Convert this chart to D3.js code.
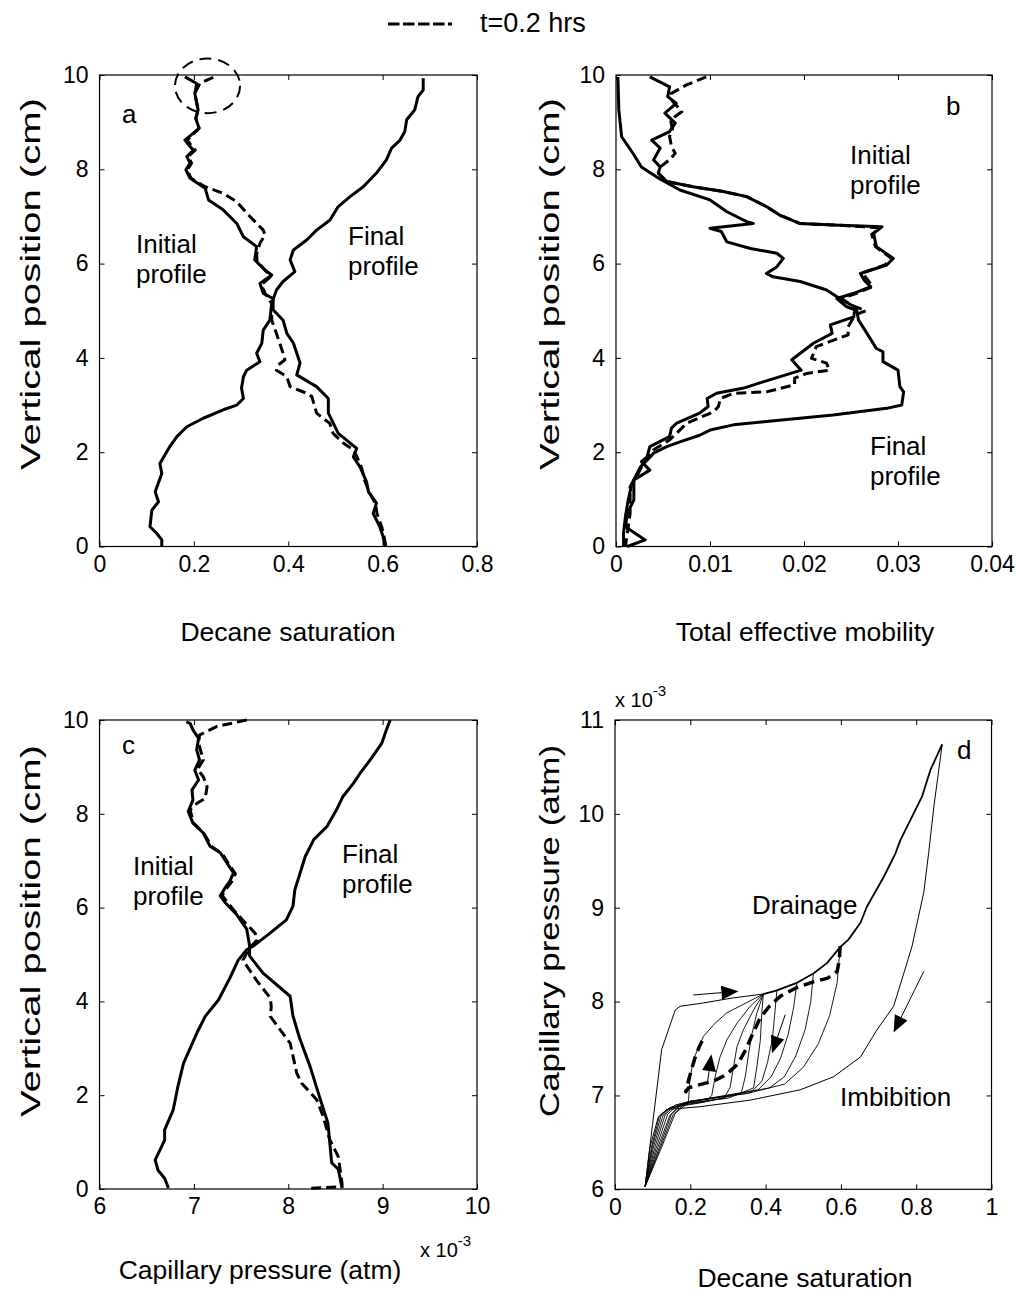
<!DOCTYPE html>
<html><head><meta charset="utf-8">
<script src="https://cdn.jsdelivr.net/npm/d3@7"></script>
<style>
body{margin:0;background:#fff}
svg text{font-family:"Liberation Sans",Arial,Helvetica,sans-serif;fill:#000}
</style>
</head><body>
<svg id="fig" width="1016" height="1293"></svg>
<script>
// ---------- (a) decane saturation profiles: [saturation, height cm] ----------
const aInitial = [[0.181,9.96],[0.206,9.82],[0.202,9.61],[0.209,9.26],[0.204,9.08],[0.211,8.87],[0.181,8.62],[0.192,8.48],[0.199,8.41],[0.185,8.27],[0.192,8.13],[0.183,7.99],[0.192,7.81],[0.224,7.60],[0.231,7.35],[0.262,7.14],[0.291,6.85],[0.305,6.57],[0.333,6.36],[0.329,6.08],[0.351,5.86],[0.365,5.76],[0.340,5.58],[0.347,5.37],[0.368,5.26],[0.368,5.02],[0.389,4.80],[0.397,4.52],[0.411,4.31],[0.425,3.89],[0.418,3.64],[0.460,3.39],[0.485,3.14],[0.485,2.83],[0.506,2.40],[0.545,2.08],[0.538,1.90],[0.552,1.69],[0.566,1.37],[0.570,1.16],[0.587,0.92],[0.580,0.70],[0.594,0.42],[0.601,0.21],[0.605,0.0]];
const aT02 = [[0.241,9.95],[0.213,9.83],[0.202,9.61],[0.209,9.26],[0.204,9.08],[0.211,8.87],[0.186,8.62],[0.196,8.48],[0.203,8.41],[0.188,8.27],[0.195,8.13],[0.186,7.99],[0.194,7.81],[0.224,7.63],[0.262,7.49],[0.291,7.31],[0.312,7.07],[0.347,6.71],[0.351,6.61],[0.340,6.43],[0.333,6.20],[0.334,6.05],[0.352,5.85],[0.362,5.72],[0.343,5.55],[0.352,5.35],[0.365,5.15],[0.365,4.80],[0.375,4.52],[0.389,4.10],[0.393,3.96],[0.379,3.85],[0.375,3.74],[0.397,3.60],[0.404,3.39],[0.439,3.25],[0.450,3.18],[0.460,2.83],[0.488,2.61],[0.495,2.40],[0.517,2.19],[0.538,2.05],[0.548,1.85],[0.556,1.65],[0.562,1.40],[0.572,1.15],[0.585,0.90],[0.588,0.70],[0.598,0.42],[0.603,0.21],[0.607,0.0]];
const aFinal = [[0.686,9.93],[0.686,9.68],[0.675,9.54],[0.668,9.26],[0.651,9.05],[0.647,8.80],[0.637,8.62],[0.619,8.45],[0.608,8.20],[0.587,7.92],[0.559,7.63],[0.531,7.42],[0.506,7.21],[0.488,6.92],[0.460,6.71],[0.439,6.50],[0.411,6.29],[0.404,6.08],[0.414,5.83],[0.389,5.62],[0.375,5.44],[0.365,5.16],[0.361,4.80],[0.347,4.59],[0.344,4.31],[0.333,4.10],[0.340,3.92],[0.312,3.74],[0.305,3.60],[0.301,3.36],[0.305,3.14],[0.291,3.00],[0.262,2.90],[0.220,2.72],[0.185,2.54],[0.164,2.33],[0.149,2.12],[0.128,1.76],[0.132,1.55],[0.118,1.16],[0.125,0.95],[0.111,0.77],[0.107,0.42],[0.121,0.28],[0.132,0.14],[0.132,0.0]];
// highlighted region near the top of (a): centre, radii in data units
const aCircle = {cx:0.229, cy:9.77, rx:0.069, ry:0.58};

// ---------- (b) total effective mobility profiles ----------
const bInitial = [[0.0036,9.96],[0.0057,9.75],[0.0055,9.54],[0.0064,9.40],[0.0052,9.19],[0.0063,8.98],[0.0057,8.80],[0.0038,8.62],[0.0047,8.45],[0.0040,8.20],[0.0047,8.05],[0.0045,7.92],[0.0054,7.74],[0.0082,7.63],[0.0114,7.53],[0.0139,7.42],[0.0160,7.21],[0.0174,7.03],[0.0196,6.85],[0.0231,6.82],[0.0283,6.78],[0.0274,6.64],[0.0277,6.36],[0.0295,6.11],[0.0288,5.97],[0.0260,5.79],[0.0264,5.65],[0.0271,5.51],[0.0253,5.37],[0.0235,5.26],[0.0245,5.09],[0.0254,5.02],[0.0253,4.87],[0.0228,4.70],[0.0230,4.52],[0.0210,4.31],[0.0187,3.96],[0.0197,3.74],[0.0153,3.47],[0.0136,3.36],[0.0107,3.25],[0.0097,3.14],[0.0098,2.97],[0.0089,2.83],[0.0064,2.61],[0.0059,2.51],[0.0057,2.33],[0.0036,2.12],[0.0033,1.90],[0.0027,1.80],[0.0036,1.62],[0.0019,1.41],[0.0019,0.99],[0.0012,0.70],[0.0010,0.42],[0.0031,0.14],[0.0012,0.0]];
const bT02 = [[0.0096,9.96],[0.0075,9.79],[0.0059,9.61],[0.0060,9.45],[0.0070,9.22],[0.0058,9.05],[0.0060,8.85],[0.0057,8.70],[0.0059,8.48],[0.0063,8.34],[0.0057,8.20],[0.0047,8.05],[0.0045,7.92],[0.0054,7.74],[0.0082,7.63],[0.0114,7.53],[0.0139,7.42],[0.0160,7.21],[0.0174,7.03],[0.0196,6.85],[0.0231,6.82],[0.0281,6.76],[0.0272,6.62],[0.0276,6.36],[0.0293,6.11],[0.0286,5.97],[0.0262,5.80],[0.0268,5.65],[0.0273,5.51],[0.0256,5.37],[0.0240,5.26],[0.0250,5.12],[0.0266,5.00],[0.0254,4.91],[0.0247,4.66],[0.0247,4.49],[0.0213,4.24],[0.0208,3.99],[0.0224,3.89],[0.0227,3.74],[0.0203,3.67],[0.0190,3.57],[0.0190,3.43],[0.0160,3.28],[0.0125,3.25],[0.0111,3.14],[0.0109,2.97],[0.0104,2.86],[0.0075,2.61],[0.0066,2.43],[0.0057,2.26],[0.0040,2.05],[0.0036,1.94],[0.0029,1.76],[0.0022,1.48],[0.0015,1.27],[0.0015,0.70],[0.0012,0.28],[0.0010,0.0]];
const bFinal = [[0.0002,9.96],[0.0003,9.26],[0.0006,8.69],[0.0018,8.34],[0.0027,8.05],[0.0043,7.84],[0.0068,7.56],[0.0100,7.35],[0.0118,7.10],[0.0139,6.89],[0.0146,6.85],[0.0100,6.75],[0.0112,6.68],[0.0118,6.46],[0.0143,6.32],[0.0171,6.22],[0.0178,6.11],[0.0171,5.93],[0.0160,5.79],[0.0167,5.72],[0.0196,5.62],[0.0224,5.44],[0.0238,5.26],[0.0253,5.09],[0.0256,5.02],[0.0258,4.80],[0.0267,4.52],[0.0277,4.20],[0.0284,4.13],[0.0284,3.92],[0.0300,3.74],[0.0302,3.39],[0.0306,3.28],[0.0304,3.00],[0.0288,2.93],[0.0231,2.79],[0.0160,2.65],[0.0125,2.58],[0.0100,2.47],[0.0089,2.36],[0.0068,2.22],[0.0054,2.12],[0.0040,1.98],[0.0033,1.83],[0.0026,1.69],[0.0017,1.34],[0.0013,0.99],[0.0010,0.63],[0.0008,0.28],[0.0008,0.0]];

// ---------- (c) capillary pressure profiles, x in 1e-3 atm ----------
const cInitial = [[6.92,9.96],[6.96,9.93],[6.99,9.79],[7.05,9.61],[7.03,9.36],[7.06,9.15],[7.01,8.93],[7.05,8.72],[6.98,8.51],[6.99,8.29],[6.94,8.05],[6.99,7.80],[7.10,7.59],[7.17,7.31],[7.28,7.17],[7.35,6.95],[7.42,6.74],[7.38,6.56],[7.33,6.42],[7.28,6.25],[7.33,6.11],[7.45,5.86],[7.56,5.54],[7.59,5.19],[7.59,4.97],[7.73,4.61],[8.02,4.11],[8.05,3.69],[8.12,3.22],[8.23,2.62],[8.34,1.91],[8.42,1.41],[8.44,0.99],[8.46,0.56],[8.53,0.42],[8.57,0.02]];
const cT02 = [[7.56,10.0],[7.24,9.86],[7.06,9.68],[7.05,9.50],[7.10,9.15],[7.04,8.95],[7.10,8.79],[7.14,8.58],[7.12,8.33],[7.03,8.22],[6.96,8.08],[7.00,7.80],[7.11,7.57],[7.19,7.30],[7.30,7.15],[7.37,6.93],[7.44,6.72],[7.40,6.55],[7.35,6.42],[7.30,6.26],[7.36,6.10],[7.45,5.88],[7.65,5.45],[7.67,5.31],[7.59,5.14],[7.52,4.88],[7.66,4.46],[7.81,4.07],[7.82,3.89],[7.81,3.68],[8.02,3.11],[8.09,2.47],[8.14,2.26],[8.30,1.91],[8.37,1.55],[8.44,1.05],[8.53,0.69],[8.57,0.12],[8.57,0.05],[8.21,0.01]];
const cFinal = [[9.08,10.0],[9.04,9.79],[8.99,9.50],[8.88,9.18],[8.76,8.86],[8.69,8.65],[8.58,8.37],[8.51,8.08],[8.41,7.73],[8.27,7.45],[8.18,7.09],[8.12,6.70],[8.07,6.38],[8.05,6.03],[7.98,5.74],[7.81,5.46],[7.63,5.18],[7.56,5.10],[7.47,4.88],[7.38,4.49],[7.26,4.03],[7.12,3.68],[7.03,3.32],[6.89,2.68],[6.83,2.18],[6.78,1.68],[6.69,1.26],[6.69,1.04],[6.64,0.83],[6.59,0.62],[6.62,0.40],[6.69,0.23],[6.73,0.02]];

// ---------- (d) capillary pressure (1e-3 atm) vs decane saturation ----------
const dPrimary = [[0.080,6.03],[0.100,6.70],[0.124,7.49],[0.160,7.91],[0.173,7.95],[0.226,7.98],[0.315,8.04],[0.394,8.08]];
const dDrainage = [[0.394,8.08],[0.430,8.12],[0.483,8.20],[0.527,8.30],[0.563,8.41],[0.598,8.58],[0.620,8.66],[0.652,8.84],[0.669,9.01],[0.714,9.33],[0.745,9.58],[0.758,9.72],[0.789,9.97],[0.816,10.19],[0.838,10.47],[0.869,10.74]];
const dImbibition = [[0.869,10.74],[0.847,10.08],[0.833,9.58],[0.820,9.16],[0.789,8.59],[0.767,8.30],[0.740,7.95],[0.696,7.70],[0.652,7.41],[0.581,7.20],[0.492,7.06],[0.359,6.95],[0.226,6.88],[0.137,6.85],[0.115,6.77],[0.093,6.45],[0.080,6.03]];
const dScanning = [
  [[0.394,8.08],[0.297,7.88],[0.266,7.77],[0.235,7.63],[0.208,7.38],[0.199,7.17],[0.195,6.93],[0.170,6.88],[0.142,6.86],[0.118,6.78],[0.097,6.45],[0.080,6.03]],
  [[0.394,8.08],[0.359,7.95],[0.324,7.77],[0.297,7.59],[0.279,7.41],[0.266,7.20],[0.257,7.00],[0.240,6.93],[0.180,6.89],[0.146,6.87],[0.122,6.78],[0.099,6.45],[0.080,6.03]],
  [[0.394,8.08],[0.368,7.91],[0.341,7.70],[0.324,7.52],[0.315,7.31],[0.306,7.09],[0.290,6.97],[0.200,6.91],[0.150,6.88],[0.127,6.78],[0.102,6.45],[0.080,6.03]],
  [[0.394,8.08],[0.377,7.88],[0.364,7.66],[0.355,7.45],[0.346,7.20],[0.335,7.02],[0.250,6.94],[0.160,6.90],[0.133,6.79],[0.106,6.45],[0.080,6.03]],
  [[0.394,8.08],[0.390,7.88],[0.386,7.59],[0.377,7.31],[0.368,7.08],[0.300,6.97],[0.170,6.91],[0.140,6.80],[0.110,6.45],[0.080,6.03]],
  [[0.430,8.12],[0.425,7.90],[0.418,7.60],[0.405,7.35],[0.390,7.15],[0.360,7.03],[0.200,6.93],[0.175,6.90],[0.146,6.79],[0.114,6.45],[0.080,6.03]],
  [[0.483,8.20],[0.475,7.95],[0.460,7.65],[0.440,7.40],[0.415,7.20],[0.380,7.06],[0.250,6.97],[0.180,6.92],[0.150,6.80],[0.118,6.45],[0.080,6.03]],
  [[0.527,8.30],[0.520,8.00],[0.505,7.70],[0.480,7.42],[0.450,7.20],[0.410,7.08],[0.300,7.00],[0.190,6.93],[0.155,6.80],[0.121,6.45],[0.080,6.03]],
  [[0.598,8.58],[0.590,8.20],[0.570,7.85],[0.540,7.55],[0.500,7.30],[0.450,7.12],[0.350,7.02],[0.200,6.94],[0.160,6.81],[0.124,6.45],[0.080,6.03]]
];
const dT02 = [[0.598,8.59],[0.596,8.45],[0.590,8.32],[0.565,8.25],[0.527,8.21],[0.483,8.15],[0.440,8.06],[0.410,7.95],[0.385,7.82],[0.365,7.65],[0.345,7.47],[0.325,7.33],[0.295,7.22],[0.260,7.15],[0.220,7.11],[0.195,7.08],[0.188,7.04],[0.196,7.17],[0.205,7.30],[0.214,7.42],[0.225,7.53],[0.238,7.63]];
// direction arrows: [from, to]
const dArrows = [
  [[0.208,8.07],[0.328,8.11]],
  [[0.245,7.12],[0.256,7.44]],
  [[0.452,7.86],[0.417,7.45]],
  [[0.820,8.32],[0.740,7.67]]
];

// ---------- tick values ----------
const ticksA = [0,0.2,0.4,0.6,0.8];
const ticksB = [0,0.01,0.02,0.03,0.04];
const ticksC = [6,7,8,9,10];
const ticksD = [0,0.2,0.4,0.6,0.8,1];
const ticksH = [0,2,4,6,8,10];
const ticksPc = [6,7,8,9,10,11];

const svg = d3.select('#fig');
svg.append('rect').attr('width',1016).attr('height',1293).attr('fill','#fff');

const TICK_FS = 23, LABEL_FS = 26.5, YLABEL_FS = 27, YLABEL_LEN = 372, NOTE_FS = 26;

function makePanel(o) {
  const x = d3.scaleLinear().domain(o.xDomain).range([o.left, o.right]);
  const y = d3.scaleLinear().domain(o.yDomain).range([o.bottom, o.top]);
  const g = svg.append('g');
  const fmt = d => String(+d.toFixed(3));
  g.append('g').attr('transform', `translate(0,${o.bottom})`)
    .call(d3.axisBottom(x).tickValues(o.xTicks).tickFormat(fmt).tickSizeInner(-5).tickSizeOuter(0).tickPadding(9));
  g.append('g').attr('transform', `translate(0,${o.top})`)
    .call(d3.axisTop(x).tickValues(o.xTicks).tickFormat('').tickSizeInner(-5).tickSizeOuter(0));
  g.append('g').attr('transform', `translate(${o.left},0)`)
    .call(d3.axisLeft(y).tickValues(o.yTicks).tickFormat(fmt).tickSizeInner(-5).tickSizeOuter(0).tickPadding(11));
  g.append('g').attr('transform', `translate(${o.right},0)`)
    .call(d3.axisRight(y).tickValues(o.yTicks).tickFormat('').tickSizeInner(-5).tickSizeOuter(0));
  g.selectAll('.domain').remove();
  g.selectAll('.tick line').attr('stroke','#000').attr('stroke-width',1);
  g.selectAll('.tick text').attr('font-size', TICK_FS).attr('font-family','Liberation Sans, Arial, sans-serif').attr('fill','#000');
  g.append('rect').attr('x',o.left).attr('y',o.top).attr('width',o.right-o.left).attr('height',o.bottom-o.top)
    .attr('fill','none').attr('stroke','#000').attr('stroke-width',1.2);
  const plot = g.append('g');
  const line = d3.line().x(d => x(d[0])).y(d => y(d[1]));
  return {x, y, g, plot, line};
}

function curve(p, data, dashed, width) {
  p.plot.append('path').attr('d', p.line(data)).attr('fill','none').attr('stroke','#000')
    .attr('stroke-width', width || 3).attr('stroke-linejoin','round').attr('stroke-linecap','butt')
    .attr('stroke-dasharray', dashed ? dashed : null);
}

function note(x, y, lines, anchor) {
  const t = svg.append('text').attr('x', x).attr('y', y).attr('font-size', NOTE_FS).attr('text-anchor', anchor || 'start');
  lines.forEach((s, i) => t.append('tspan').attr('x', x).attr('dy', i ? 30 : 0).text(s));
}

function xLabel(cx, y, s) {
  svg.append('text').attr('x', cx).attr('y', y).attr('font-size', LABEL_FS).attr('text-anchor','middle').text(s);
}
// rotated axis titles are drawn stretched along their length
function yLabel(x, cy, s) {
  svg.append('text').attr('transform', `translate(${x},${cy}) rotate(-90)`).attr('font-size', YLABEL_FS)
    .attr('x', -YLABEL_LEN / 2).attr('textLength', YLABEL_LEN).attr('lengthAdjust', 'spacingAndGlyphs').text(s);
}
function times10(x, y) {
  const t = svg.append('text').attr('x', x).attr('y', y).attr('font-size', 20);
  t.append('tspan').text('x 10');
  t.append('tspan').attr('dy', -11).attr('font-size', 15).text('-3');
}

const DASH = '10,5';

// ---- panel a ----
const pa = makePanel({xDomain:[0,0.8], yDomain:[0,10], left:99.5, right:477, top:75, bottom:546.5, xTicks:ticksA, yTicks:ticksH});
curve(pa, aInitial); curve(pa, aFinal); curve(pa, aT02, DASH);
pa.plot.append('ellipse').attr('cx', pa.x(aCircle.cx)).attr('cy', pa.y(aCircle.cy))
  .attr('rx', pa.x(aCircle.cx + aCircle.rx) - pa.x(aCircle.cx)).attr('ry', pa.y(aCircle.cy - aCircle.ry) - pa.y(aCircle.cy))
  .attr('fill','none').attr('stroke','#000').attr('stroke-width',2).attr('stroke-dasharray','12,7');
note(122, 123, ['a']);
note(136, 253, ['Initial','profile']);
note(348, 245, ['Final','profile']);
xLabel(288, 641, 'Decane saturation');
yLabel(40, 284, 'Vertical position (cm)');

// ---- panel b ----
const pb = makePanel({xDomain:[0,0.04], yDomain:[0,10], left:616, right:992, top:75, bottom:546.5, xTicks:ticksB, yTicks:ticksH});
curve(pb, bInitial); curve(pb, bFinal); curve(pb, bT02, DASH);
note(946, 115, ['b']);
note(850, 164, ['Initial','profile']);
note(870, 455, ['Final','profile']);
xLabel(805, 641, 'Total effective mobility');
yLabel(559, 284, 'Vertical position (cm)');

// ---- panel c ----
const pc = makePanel({xDomain:[6,10], yDomain:[0,10], left:99.5, right:477, top:720, bottom:1189, xTicks:ticksC, yTicks:ticksH});
curve(pc, cInitial); curve(pc, cFinal); curve(pc, cT02, DASH);
note(122, 754, ['c']);
note(133, 875, ['Initial','profile']);
note(342, 863, ['Final','profile']);
xLabel(260, 1279, 'Capillary pressure (atm)');
yLabel(40, 931, 'Vertical position (cm)');
times10(420, 1257);

// ---- panel d ----
const pd = makePanel({xDomain:[0,1], yDomain:[6,11], left:615, right:991.5, top:720, bottom:1189.3, xTicks:ticksD, yTicks:ticksPc});
dScanning.forEach(s => curve(pd, s, null, 0.9));
curve(pd, dPrimary, null, 1);
curve(pd, dImbibition, null, 1);
curve(pd, dDrainage, null, 1.8);
curve(pd, dT02, '11,6', 3.5);
dArrows.forEach(([a, b]) => {
  const x0 = pd.x(a[0]), y0 = pd.y(a[1]), x1 = pd.x(b[0]), y1 = pd.y(b[1]);
  const L = Math.hypot(x1 - x0, y1 - y0), ux = (x1 - x0) / L, uy = (y1 - y0) / L;
  const len = 17, hw = 7;
  const bx = x1 - ux * len, by = y1 - uy * len;
  pd.plot.append('line').attr('x1', x0).attr('y1', y0).attr('x2', bx).attr('y2', by).attr('stroke','#000').attr('stroke-width',1);
  pd.plot.append('path').attr('d', `M${x1},${y1}L${bx - uy*hw},${by + ux*hw}L${bx + uy*hw},${by - ux*hw}Z`).attr('fill','#000');
});
note(957, 759, ['d']);
note(752, 914, ['Drainage']);
note(840, 1106, ['Imbibition']);
xLabel(805, 1287, 'Decane saturation');
yLabel(559, 931, 'Capillary pressure (atm)');
times10(615, 707);

// ---- legend ----
svg.append('line').attr('x1',388).attr('x2',452).attr('y1',24).attr('y2',24)
  .attr('stroke','#000').attr('stroke-width',3).attr('stroke-dasharray','11.5,3.5');
svg.append('text').attr('x',480).attr('y',32).attr('font-size',27).text('t=0.2 hrs');
</script>
</body></html>
